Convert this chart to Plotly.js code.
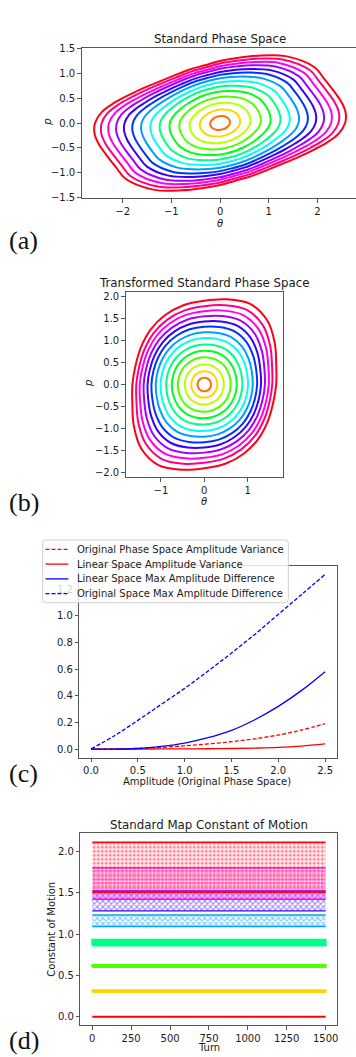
<!DOCTYPE html>
<html><head><meta charset="utf-8">
<script src="https://cdn.plot.ly/plotly-3.0.1.min.js"></script>
<style>html,body{margin:0;padding:0;background:#fff}#chart{width:356px;height:1057px}</style>
</head><body><div id="chart"></div>
<script>
// ---------- DATA ----------
const ringColors = ['#ff6c00','#ffd700','#bbff00','#50ff00','#00ff1c','#00ff87','#00fff4','#009fff','#0034ff','#3800ff','#a300ff','#ff00ef','#ff0084','#ff0018'];

// Panel (a): radius of each orbit read along the directions listed (degrees)
const anglesA = [0,5,10,15,22.5,30,45,60,75,90,105,120,135,150,157.5,165,170,175,
                 180,185,190,195,202.5,210,225,240,255,270,285,300,315,330,337.5,345,350,355];
const radiiA = [
 [0.2,0.203,0.204,0.203,0.198,0.190,0.172,0.155,0.144,0.138,0.137,0.141,0.151,0.166,0.175,0.184,0.190,0.196,
  0.2,0.203,0.204,0.203,0.198,0.190,0.172,0.155,0.144,0.138,0.137,0.141,0.151,0.166,0.175,0.184,0.190,0.196],
 [0.41,0.415,0.415,0.412,0.401,0.386,0.345,0.308,0.283,0.270,0.268,0.276,0.296,0.328,0.348,0.370,0.386,0.400,
  0.41,0.415,0.415,0.412,0.401,0.386,0.345,0.308,0.283,0.270,0.268,0.276,0.296,0.328,0.348,0.370,0.386,0.400],
 [0.62,0.628,0.627,0.620,0.602,0.580,0.517,0.459,0.421,0.400,0.396,0.409,0.438,0.486,0.518,0.554,0.580,0.603,
  0.62,0.628,0.627,0.620,0.602,0.580,0.517,0.459,0.421,0.400,0.396,0.409,0.438,0.486,0.518,0.554,0.580,0.603],
 [0.83,0.840,0.836,0.825,0.800,0.770,0.684,0.602,0.549,0.521,0.514,0.530,0.569,0.635,0.679,0.731,0.770,0.806,
  0.83,0.840,0.836,0.825,0.800,0.770,0.684,0.602,0.549,0.521,0.514,0.530,0.569,0.635,0.679,0.731,0.770,0.806],
 [1.03,1.041,1.035,1.018,0.986,0.950,0.840,0.735,0.667,0.632,0.622,0.642,0.689,0.772,0.830,0.898,0.949,0.998,
  1.03,1.041,1.035,1.018,0.986,0.950,0.840,0.735,0.667,0.632,0.622,0.642,0.689,0.772,0.830,0.898,0.949,0.998],
 [1.23,1.243,1.232,1.209,1.168,1.126,0.989,0.859,0.775,0.732,0.719,0.742,0.797,0.898,0.970,1.057,1.125,1.188,
  1.23,1.243,1.232,1.209,1.168,1.126,0.989,0.859,0.775,0.732,0.719,0.742,0.797,0.898,0.970,1.057,1.125,1.188],
 [1.42,1.434,1.417,1.386,1.336,1.289,1.125,0.968,0.867,0.816,0.799,0.825,0.888,1.006,1.093,1.201,1.287,1.368,
  1.42,1.434,1.417,1.386,1.336,1.289,1.125,0.968,0.867,0.816,0.799,0.825,0.888,1.006,1.093,1.201,1.287,1.368],
 [1.61,1.625,1.601,1.562,1.502,1.450,1.260,1.075,0.957,0.897,0.877,0.905,0.975,1.111,1.214,1.344,1.448,1.548,
  1.61,1.625,1.601,1.562,1.502,1.450,1.260,1.075,0.957,0.897,0.877,0.905,0.975,1.111,1.214,1.344,1.448,1.548],
 [1.79,1.805,1.775,1.726,1.656,1.600,1.382,1.169,1.035,0.966,0.942,0.973,1.049,1.202,1.321,1.473,1.597,1.717,
  1.79,1.805,1.775,1.726,1.656,1.600,1.382,1.169,1.035,0.966,0.942,0.973,1.049,1.202,1.321,1.473,1.597,1.717],
 [1.96,1.975,1.938,1.879,1.800,1.740,1.495,1.254,1.103,1.026,0.997,1.030,1.112,1.283,1.417,1.592,1.736,1.875,
  1.96,1.975,1.938,1.879,1.800,1.740,1.495,1.254,1.103,1.026,0.997,1.030,1.112,1.283,1.417,1.592,1.736,1.875],
 [2.12,2.136,2.092,2.025,1.937,1.873,1.604,1.338,1.172,1.089,1.056,1.091,1.179,1.364,1.513,1.707,1.869,2.026,
  2.12,2.136,2.092,2.025,1.937,1.873,1.604,1.338,1.172,1.089,1.056,1.091,1.179,1.364,1.513,1.707,1.869,2.026],
 [2.28,2.296,2.244,2.167,2.069,2.002,1.706,1.412,1.230,1.138,1.101,1.138,1.231,1.433,1.597,1.815,1.997,2.174,
  2.28,2.296,2.244,2.167,2.069,2.002,1.706,1.412,1.230,1.138,1.101,1.138,1.231,1.433,1.597,1.815,1.997,2.174],
 [2.43,2.447,2.388,2.303,2.197,2.126,1.806,1.489,1.292,1.193,1.152,1.191,1.289,1.506,1.684,1.921,2.120,2.315,
  2.43,2.447,2.388,2.303,2.197,2.126,1.806,1.489,1.292,1.193,1.152,1.191,1.289,1.506,1.684,1.921,2.120,2.315],
 [2.567,2.584,2.52,2.427,2.314,2.24,1.899,1.56,1.35,1.245,1.20,1.241,1.344,1.574,1.764,2.019,2.233,2.443,
  2.567,2.584,2.52,2.427,2.314,2.24,1.899,1.56,1.35,1.245,1.20,1.241,1.344,1.574,1.764,2.019,2.233,2.443]
];

// Panel (b): radius of each orbit read along directions every 15 degrees
const anglesB = [0,15,30,45,60,75,90,105,120,135,150,165,180,195,210,225,240,255,270,285,300,315,330,345];
const radiiB = [
 [0.155,0.155,0.156,0.156,0.156,0.156,0.156,0.156,0.155,0.155,0.155,0.155, 0.155,0.155,0.156,0.156,0.156,0.156,0.156,0.156,0.155,0.155,0.155,0.155],
 [0.30,0.301,0.302,0.304,0.304,0.303,0.302,0.302,0.301,0.301,0.30,0.30, 0.30,0.301,0.302,0.304,0.304,0.303,0.302,0.302,0.301,0.301,0.30,0.30],
 [0.45,0.451,0.455,0.459,0.46,0.458,0.455,0.455,0.453,0.452,0.451,0.45, 0.45,0.451,0.455,0.459,0.46,0.458,0.455,0.455,0.453,0.452,0.451,0.45],
 [0.61,0.613,0.62,0.628,0.63,0.625,0.621,0.619,0.617,0.614,0.611,0.609, 0.61,0.613,0.62,0.628,0.63,0.625,0.621,0.619,0.617,0.614,0.611,0.609],
 [0.75,0.755,0.767,0.781,0.785,0.777,0.769,0.766,0.762,0.758,0.752,0.749, 0.75,0.755,0.767,0.781,0.785,0.777,0.769,0.766,0.762,0.758,0.752,0.749],
 [0.88,0.888,0.909,0.933,0.941,0.926,0.913,0.908,0.901,0.893,0.884,0.878, 0.88,0.888,0.909,0.933,0.941,0.926,0.913,0.908,0.901,0.893,0.884,0.878],
 [1.01,1.022,1.053,1.088,1.099,1.078,1.059,1.051,1.041,1.029,1.016,1.007, 1.01,1.022,1.053,1.088,1.099,1.078,1.059,1.051,1.041,1.029,1.016,1.007],
 [1.12,1.136,1.18,1.228,1.244,1.215,1.188,1.177,1.163,1.147,1.128,1.116, 1.12,1.136,1.18,1.228,1.244,1.215,1.188,1.177,1.163,1.147,1.128,1.116],
 [1.22,1.243,1.304,1.373,1.396,1.354,1.316,1.301,1.281,1.258,1.231,1.214, 1.22,1.243,1.304,1.373,1.396,1.354,1.316,1.301,1.281,1.258,1.231,1.214],
 [1.31,1.34,1.42,1.509,1.539,1.484,1.435,1.415,1.389,1.36,1.325,1.303, 1.31,1.34,1.42,1.509,1.539,1.484,1.435,1.415,1.389,1.36,1.325,1.303],
 [1.40,1.436,1.534,1.643,1.679,1.613,1.552,1.528,1.497,1.46,1.418,1.391, 1.40,1.436,1.534,1.643,1.679,1.613,1.552,1.528,1.497,1.46,1.418,1.391],
 [1.49,1.533,1.649,1.777,1.82,1.742,1.67,1.641,1.604,1.562,1.511,1.479, 1.49,1.533,1.649,1.777,1.82,1.742,1.67,1.641,1.604,1.562,1.511,1.479],
 [1.57,1.621,1.758,1.911,1.961,1.868,1.783,1.749,1.706,1.655,1.595,1.557, 1.57,1.621,1.758,1.911,1.961,1.868,1.783,1.749,1.706,1.655,1.595,1.557],
 [1.66,1.72,1.88,2.06,2.12,2.01,1.91,1.87,1.82,1.76,1.69,1.645, 1.66,1.72,1.88,2.06,2.12,2.01,1.91,1.87,1.82,1.76,1.69,1.645]
];

// Panel (c)
const amplitude = [0,0.25,0.5,0.75,1.0,1.25,1.5,1.75,2.0,2.25,2.5];
const origVariance = [0,0.001,0.005,0.012,0.024,0.038,0.055,0.077,0.105,0.143,0.19];
const linVariance = [0,0,0,0.0005,0.001,0.002,0.004,0.007,0.012,0.022,0.038];
const linMaxDiff = [0,0,0.004,0.02,0.045,0.085,0.14,0.22,0.32,0.44,0.58];
const origMaxDiff = [0,0.1,0.215,0.335,0.455,0.585,0.72,0.86,1.01,1.16,1.31];
const legendNames = ['Original Phase Space Amplitude Variance','Linear Space Amplitude Variance','Linear Space Max Amplitude Difference','Original Space Max Amplitude Difference'];

// Panel (d): range of the constant of motion over the turns, per orbit
const turnSpan = [0,1500];
const cmColors = ['#ff0000','#ffd700','#50ff00','#00ff87','#009fff','#3800ff','#ff00ef','#ff0018'];
const cmLow  = [0,0.30,0.60,0.86,1.09,1.28,1.42,1.50];
const cmHigh = [0,0.32,0.625,0.93,1.23,1.52,1.80,2.11];

// ---------- BUILD ----------
const W = 356, H = 1057;
const px = v => v / W, py = v => 1 - v / H;
const traces = [];
const shapes = [];
const annotations = [];
function ring(angles, radii, color, xa, ya) {
  const x = [], y = [];
  const n = angles.length;
  for (let k = 0; k <= n; k++) {
    const a = angles[k % n] * Math.PI / 180, r = radii[k % n];
    x.push(r * Math.cos(a)); y.push(r * Math.sin(a));
  }
  return {type:'scatter', mode:'lines', x, y, xaxis:xa, yaxis:ya, showlegend:false,
    line:{color, width:2, shape:'spline', smoothing:1}, hoverinfo:'skip'};
}
radiiA.forEach((r,i) => traces.push(ring(anglesA, r, ringColors[i], 'x', 'y')));
radiiB.forEach((r,i) => traces.push(ring(anglesB, r, ringColors[i], 'x2', 'y2')));

const cSeries = [
  {y: origVariance, color:'#ff0000', dash:'4px,2px'},
  {y: linVariance, color:'#ff0000', dash:'solid'},
  {y: linMaxDiff, color:'#0000ff', dash:'solid'},
  {y: origMaxDiff, color:'#0000ff', dash:'4px,2px'}
];
cSeries.forEach((s,i) => traces.push({type:'scatter', mode:'lines', x: amplitude, y: s.y, xaxis:'x3', yaxis:'y3',
  name: legendNames[i], showlegend:false, line:{color:s.color, width:1.3, dash:s.dash, shape:'spline'}, hoverinfo:'skip'}));

// custom legend for panel (c) (matplotlib-like compact legend)
const fontF = 'DejaVu Sans, sans-serif';
(function(){
  const x0=42.7, x1=288.3, y0=540, y1=602.7, r=3;
  const P=(x,y)=>px(x)+','+py(y);
  shapes.push({type:'path', xref:'paper', yref:'paper', layer:'above',
    path:`M${P(x0+r,y0)} L${P(x1-r,y0)} Q${P(x1,y0)} ${P(x1,y0+r)} L${P(x1,y1-r)} Q${P(x1,y1)} ${P(x1-r,y1)} L${P(x0+r,y1)} Q${P(x0,y1)} ${P(x0,y1-r)} L${P(x0,y0+r)} Q${P(x0,y0)} ${P(x0+r,y0)} Z`,
    fillcolor:'rgba(255,255,255,0.8)', line:{color:'#d0d0d0', width:1}});
  const rows=[549.3,564.1,578.9,593.7];
  cSeries.forEach((s,i)=>{
    shapes.push({type:'line', xref:'paper', yref:'paper', layer:'above', x0:px(45.5), x1:px(68.3), y0:py(rows[i]), y1:py(rows[i]),
      line:{color:s.color, width:1.3, dash:s.dash}});
    annotations.push({text:legendNames[i], x:px(75.3), y:py(rows[i]), xref:'paper', yref:'paper', showarrow:false,
      xanchor:'left', yanchor:'middle', font:{family:fontF, size:10, color:'#1a1a1a'}});
  });
})();

const bandStyle = [
  null, null, null, null,
  {shape:'x', size:4, solidity:0.5, alpha:0.5},
  {shape:'x', size:4, solidity:0.45, alpha:0.45},
  {shape:'.', size:3, solidity:0.5, alpha:0.3},
  {shape:'.', size:4, solidity:0.5, alpha:0.15}
];
function rgba(hex, a){const n=parseInt(hex.slice(1),16);return `rgba(${n>>16},${(n>>8)&255},${n&255},${a})`;}
cmLow.forEach((lo,i) => {
  const hi = cmHigh[i], c = cmColors[i], st = bandStyle[i];
  const xs = [turnSpan[0],turnSpan[1],turnSpan[1],turnSpan[0],turnSpan[0]];
  if (!st) {
    traces.push({type:'scatter', mode:'lines', xaxis:'x4', yaxis:'y4', showlegend:false, hoverinfo:'skip',
      x:xs, y:[lo,lo,hi,hi,lo], fill:'toself', fillcolor:c, line:{color:c, width:2}});
  } else {
    traces.push({type:'scatter', mode:'lines', xaxis:'x4', yaxis:'y4', showlegend:false, hoverinfo:'skip',
      x:xs, y:[lo,lo,hi,hi,lo], fill:'toself', fillcolor:rgba(c, st.alpha), line:{width:0, color:c},
      fillpattern:{shape:st.shape, fgcolor:c, bgcolor:'rgba(0,0,0,0)', size:st.size, solidity:st.solidity, fillmode:'overlay'}});
    [lo,hi].forEach(v => traces.push({type:'scatter', mode:'lines', xaxis:'x4', yaxis:'y4', showlegend:false, hoverinfo:'skip',
      x:turnSpan, y:[v,v], line:{color:c, width:1.4}}));
  }
});

const axBase = {showline:true, mirror:true, linecolor:'#555', linewidth:1, ticks:'outside', ticklen:3.5, tickwidth:1,
  tickcolor:'#555', showgrid:false, zeroline:false, tickfont:{family:fontF, size:10, color:'#1a1a1a'}};
const layout = {
  width:W, height:H, margin:{l:0,r:0,t:0,b:0}, paper_bgcolor:'#fff', plot_bgcolor:'#fff', showlegend:false,
  xaxis: Object.assign({}, axBase, {domain:[px(81.7),1], range:[-2.84,2.79], tickvals:[-2,-1,0,1,2], anchor:'y'}),
  yaxis: Object.assign({}, axBase, {domain:[py(198),py(47.7)], range:[-1.506,1.512], tickvals:[-1.5,-1,-0.5,0,0.5,1,1.5], tickformat:'.1f', anchor:'x'}),
  xaxis2: Object.assign({}, axBase, {domain:[px(125.7),px(283.3)], range:[-1.815,1.825], tickvals:[-1,0,1], anchor:'y2'}),
  yaxis2: Object.assign({}, axBase, {domain:[py(477.3),py(292.3)], range:[-2.114,2.1], tickvals:[-2,-1.5,-1,-0.5,0,0.5,1,1.5,2], tickformat:'.1f', anchor:'x2'}),
  xaxis3: Object.assign({}, axBase, {domain:[px(79.3),px(336.7)], range:[-0.125,2.624], tickvals:[0,0.5,1,1.5,2,2.5], tickformat:'.1f', anchor:'y3'}),
  yaxis3: Object.assign({}, axBase, {domain:[py(757.7),py(566)], range:[-0.065,1.373], tickvals:[0,0.2,0.4,0.6,0.8,1.0,1.2], tickformat:'.1f', anchor:'x3'}),
  xaxis4: Object.assign({}, axBase, {domain:[px(80.3),px(337.3)], range:[-77,1575], tickvals:[0,250,500,750,1000,1250,1500], anchor:'y4'}),
  yaxis4: Object.assign({}, axBase, {domain:[py(1025.3),py(833.3)], range:[-0.104,2.218], tickvals:[0,0.5,1,1.5,2], tickformat:'.1f', anchor:'x4'}),
  shapes, annotations
};
function ann(text, x, y, size, opts) {
  annotations.push(Object.assign({text, x:px(x), y:py(y), xref:'paper', yref:'paper', showarrow:false,
    xanchor:'center', yanchor:'middle', font:{family:fontF, size, color:'#1a1a1a'}}, opts||{}));
}
ann('Standard Phase Space', 220, 39, 11.8);
ann('<i>θ</i>', 220, 223.5, 10);
ann('<i>p</i>', 46.7, 122, 10, {textangle:-90});
ann('Transformed Standard Phase Space', 204.3, 283.3, 11.8);
ann('<i>θ</i>', 204.3, 501, 10);
ann('<i>p</i>', 88, 384, 10, {textangle:-90});
ann('Amplitude (Original Phase Space)', 207.5, 781, 10);
ann('Standard Map Constant of Motion', 208.8, 825, 11.8);
ann('Turn', 208.8, 1047, 10);
ann('Constant of Motion', 50.7, 929, 10, {textangle:-90});
const serif = {family:'Liberation Serif, Times New Roman, serif', size:26, color:'#111'};
ann('(a)', 7, 241, 26, {xanchor:'left', font:serif});
ann('(b)', 7, 502, 26, {xanchor:'left', font:serif});
ann('(c)', 7, 773, 26, {xanchor:'left', font:serif});
ann('(d)', 7, 1057, 26, {xanchor:'left', yanchor:'bottom', font:serif});

Plotly.newPlot('chart', traces, layout, {staticPlot:true, displayModeBar:false});
</script></body></html>
